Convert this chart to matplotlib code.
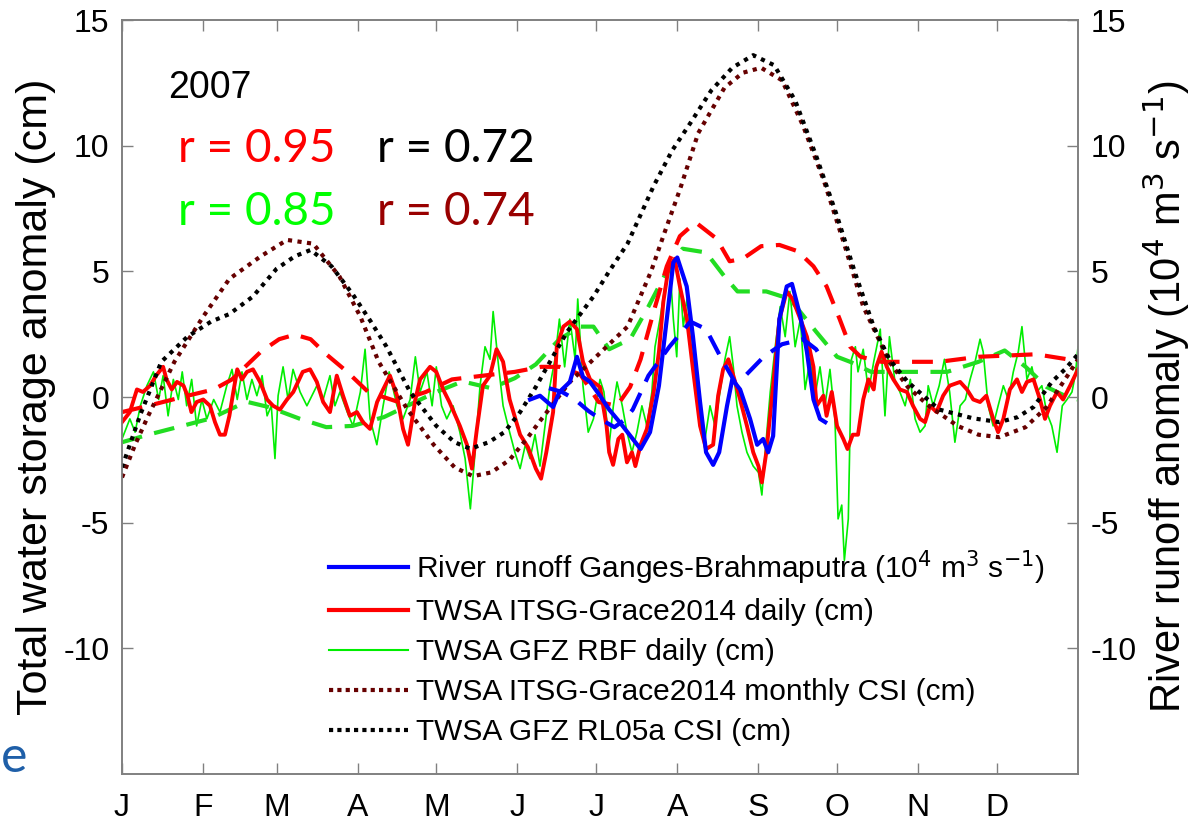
import matplotlib
matplotlib.use("Agg")
import matplotlib.pyplot as plt
import numpy as np
from matplotlib.lines import Line2D

W, H = 1195, 822

# ---------------- data (day of year 2007, values) ----------------
month_starts = [0, 31, 59, 90, 120, 151, 181, 212, 243, 273, 304, 334]
month_labels = ["J", "F", "M", "A", "M", "J", "J", "A", "S", "O", "N", "D"]
ytick_vals = [-10, -5, 0, 5, 10, 15]
ytick_labels = ["-10", "-5", "0", "5", "10", "15"]

# TWSA GFZ RL05a CSI (black dotted)
gfz_csi_days = [0, 7, 15, 25, 34, 41, 50, 59, 66, 72, 80, 88, 95, 101, 110, 120, 127, 133,
                140, 146, 152, 158, 165, 170, 180, 186, 193, 203, 210, 217, 225, 233, 241,
                249, 257, 265, 273, 280, 287, 293, 300, 312, 325, 335, 342, 348, 355, 360, 365]
gfz_csi_vals = [-2.8, -0.7, 1.4, 2.4, 3.0, 3.3, 4.0, 5.1, 5.6, 5.85, 5.2, 4.1, 3.0, 2.0, 0.2,
                -1.15, -1.8, -2.06, -1.8, -1.4, -0.6, 0.4, 1.7, 2.6, 4.0, 5.0, 6.1, 8.4, 9.8,
                10.9, 12.2, 13.1, 13.6, 13.2, 11.8, 9.6, 7.2, 4.9, 2.8, 1.5, 0.6, -0.5, -0.85,
                -1.0, -0.8, -0.4, 0.6, 1.1, 1.7]

# TWSA ITSG-Grace2014 monthly CSI (dark red dotted)
itsg_csi_days = [0, 5, 10, 20, 31, 41, 53, 63, 73, 83, 91, 98, 109, 119, 127, 134, 141, 148,
                 155, 160, 171, 183, 193, 202, 207, 213, 220, 230, 237, 244, 252, 260, 268,
                 276, 283, 293, 300, 308, 319, 327, 335, 345, 353, 361, 365]
itsg_csi_vals = [-3.2, -1.9, -0.75, 1.4, 3.2, 4.7, 5.6, 6.25, 6.1, 4.8, 3.2, 1.4, -0.5, -1.9,
                 -2.8, -3.15, -3.0, -2.5, -1.6, -0.9, 0.6, 1.8, 2.8, 5.0, 6.5, 8.25, 10.5,
                 12.3, 12.9, 13.1, 12.6, 10.8, 8.6, 6.0, 3.6, 1.4, 0.4, -0.35, -1.15, -1.5,
                 -1.6, -1.2, -0.4, 0.85, 1.5]

# smoothed ITSG daily (red dashed)
itsg_sm_days = [0, 10, 25, 35, 42, 53, 60, 66, 72, 78, 86, 94, 105, 116, 126, 138, 150, 160,
                167, 175, 182, 189, 194, 198, 203, 208, 213, 219, 227, 232, 237, 244, 251,
                258, 264, 269, 274, 278, 282, 290, 300, 312, 327, 338, 349, 361, 365]
itsg_sm_vals = [-0.6, -0.35, 0.05, 0.3, 0.7, 1.8, 2.3, 2.48, 2.3, 1.7, 1.0, 0.2, -0.18, 0.2,
                0.7, 0.85, 1.0, 1.2, 1.2, 0.9, -0.2, -0.35, 0.4, 1.5, 3.4, 5.2, 6.4, 6.95,
                6.3, 5.4, 5.5, 6.0, 6.05, 5.8, 5.2, 4.4, 3.1, 2.0, 1.6, 1.4, 1.4, 1.4, 1.6,
                1.65, 1.7, 1.5, 1.4]

# smoothed GFZ daily (green dashed)
gfz_sm_days = [0, 10, 23, 34, 44, 48, 56, 68, 78, 88, 100, 110, 120, 130, 141, 150, 158, 167,
               175, 180, 186, 194, 201, 207, 214, 223, 230, 235, 246, 255, 265, 273, 278,
               286, 299, 305, 315, 327, 337, 345, 353, 361, 365]
gfz_sm_vals = [-1.8, -1.5, -1.15, -0.85, -0.36, -0.2, -0.4, -0.87, -1.2, -1.15, -0.8, -0.3,
               0.2, 0.62, 0.35, 0.75, 1.3, 2.3, 2.8, 2.8, 1.9, 2.3, 3.6, 4.8, 5.9, 5.75, 4.8,
               4.2, 4.2, 3.9, 2.6, 1.6, 1.4, 1.0, 1.0, 1.0, 1.0, 1.4, 1.85, 1.2, 0.4, 0.0, -0.1]

# smoothed river runoff (blue dashed), 10^4 m^3/s
runoff_sm_days = [163, 168, 173, 178, 183, 188, 192, 195, 201, 209, 217, 223, 229, 234, 238,
                  245, 252, 260, 265, 268]
runoff_sm_vals = [0.35, 0.2, -0.1, -0.55, -0.9, -1.2, -0.9, -0.5, 0.85, 2.0, 3.0, 2.7, 1.5,
                  0.6, 0.85, 1.6, 2.1, 2.3, 1.9, 1.4]

# River runoff Ganges-Brahmaputra (blue solid)
runoff_days = [155.8, 159.6, 164.6, 167, 171, 173.7, 176, 178.7, 182.5, 186, 190, 198, 201.6,
               205, 208, 210.5, 212, 215.6, 218, 220.7, 223, 225.7, 228, 231, 233, 236,
               239.8, 242.5, 244.8, 246.7, 248.6, 251, 253.8, 255.8, 259, 261.5, 264,
               266.5, 268.5]
runoff_vals = [-0.1, 0.05, -0.4, 0.2, 0.6, 1.6, 0.8, 0.6, 0.05, -0.5, -1.0, -2.07, -1.4, 0.45,
               3.1, 5.35, 5.55, 4.4, 2.4, -0.2, -2.2, -2.7, -2.2, -0.35, 0.7, 0.3, -0.87,
               -1.9, -1.67, -2.2, -1.55, 3.1, 4.4, 4.5, 3.2, 1.8, -0.1, -0.87, -1.0]

# TWSA ITSG-Grace2014 daily (red solid)
itsg_days = [0, 3, 5.7, 8, 10.7, 13, 15.7, 17, 19, 21, 23.5, 25, 26.5, 28.5, 31, 33.6, 35.5,
             37.4, 39.3, 41, 42.5, 44, 45.8, 47.7, 50, 52.7, 55.4, 57.7, 60.3, 63, 65.4, 69,
             71.8, 74.4, 76.8, 79.4, 82, 84.4, 87, 89.7, 92, 94.7, 97.4, 99.7, 102.3, 105,
             107.3, 109.2, 112, 113.8, 117.6, 120, 122.6, 125, 129, 131.7, 133.6, 135.5,
             137.8, 140.5, 143, 145.5, 148, 152, 155, 158, 160, 162, 164.6, 166, 168.5, 171,
             173.7, 176, 178.7, 182.5, 185, 186, 187.5, 189.5, 191, 192.8, 194.7, 196, 198,
             200.4, 203, 205, 206.7, 208.6, 211, 213, 215.7, 218, 220.7, 223, 225.7, 227.6,
             229.5, 231.5, 233.4, 236, 238.6, 241, 243, 244.3, 246, 248.6, 251, 253.8, 256,
             259, 261.5, 264, 265.2, 267.8, 269, 271, 273, 275.4, 277, 279, 281, 283, 285,
             287, 288, 290, 292, 294.5, 297, 299.7, 302, 304.7, 306.6, 308.5, 311, 313.5,
             316, 320, 322.6, 325, 327.6, 330, 332.6, 334.5, 336.5, 339, 341.7, 343.6,
             345.5, 348, 350.5, 352.4, 354.3, 357, 359.3, 362, 365]
itsg_vals = [-1.0, -0.6, 0.3, 0.2, 0.45, 0.85, 1.2, 0.7, 0.3, 0.6, 0.45, 0.05, -0.6, -0.2,
             -0.1, -0.35, -1.0, -1.5, -1.5, -0.75, 0.2, 1.1, 0.7, 1.0, 1.1, 0.6, -0.1, -0.35,
             -0.5, -0.1, 0.2, 1.0, 1.1, 0.6, -0.2, -0.6, 0.85, 0.05, -0.75, -0.6, -1.0,
             -1.27, -0.2, 0.3, 0.85, 0.05, -1.27, -1.9, -0.1, 0.7, 1.2, 1.0, 0.3, -0.2,
             -1.15, -1.9, -2.85, -1.27, 0.45, 0.85, 1.9, 1.4, -0.1, -1.5, -2.0, -2.85,
             -3.25, -2.2, -0.6, 2.0, 2.8, 3.0, 2.7, 1.4, 0.7, 0.4, -1.15, -2.2, -2.7, -1.67,
             -1.5, -2.6, -2.2, -2.75, -1.9, -1.27, 0.2, 1.8, 3.8, 5.1, 5.5, 4.4, 3.1, 1.1,
             -1.15, -2.07, -1.9, 0.05, 1.1, 1.5, 0.85, -0.1, -1.15, -2.2, -2.75, -3.4, -2.2,
             0.45, 3.1, 4.2, 3.9, 3.1, 2.4, 1.2, -0.35, 0.05, -0.75, 0.2, -1.15, -1.67,
             -2.07, -1.5, -1.5, -0.1, 0.7, 0.3, 1.2, 1.8, 1.2, 0.7, 0.3, 0.2, -0.35, -0.87,
             -1.0, -0.35, -0.6, 0.05, 0.45, 0.6, 0.3, -0.1, -0.2, 0.05, -0.87, -1.4, -0.87,
             0.3, 0.7, 0.2, 0.6, 0.7, -0.1, -0.87, -0.35, 0.2, -0.1, 0.45, 1.1]

# TWSA GFZ RBF daily (green thin)
gfz_days = [0, 3, 5, 7, 9.5, 12, 14, 15.7, 17.6, 19.6, 21.5, 23, 24.7, 26.6, 28.5, 30.5,
            32.4, 35, 37.4, 40, 42, 44, 45.8, 47.7, 49.6, 51.5, 53.5, 55.4, 57, 58.4, 59.6,
            61.5, 63.4, 65.3, 68, 70.6, 72.5, 74.4, 76.8, 79.4, 81.3, 83.2, 86, 88.2, 91,
            92.8, 94.7, 97.3, 99.7, 102, 105, 107.3, 110, 112, 113.8, 116.4, 118.4, 120, 122,
            124, 126.4, 129, 131, 133, 134.8, 136.7, 138.6, 140.5, 141.7, 143.6, 145.5, 148,
            150, 152, 154, 155.8, 157.7, 159.6, 161.5, 163.4, 165.3, 167, 169, 171, 173, 174,
            176, 178, 180, 182.5, 184, 186, 187.6, 189, 191, 192.8, 194.7, 196.6, 198.5,
            200.4, 202.3, 203.5, 205.4, 207.3, 209.2, 210.5, 211.8, 213, 214.3, 215.7, 217.6,
            218.8, 220.7, 222.6, 224.5, 226.4, 228.3, 230.2, 232, 233.4, 234.8, 236.7, 238.6,
            241, 243, 244.3, 246.2, 247.5, 249.4, 251.3, 253.2, 255, 257, 259, 260.8, 262.7,
            264.6, 266.5, 268.4, 270.3, 272.2, 273.4, 274.8, 275.8, 277.3, 278.5, 280, 281,
            283, 285, 287, 289.5, 291.3, 293, 295, 297, 299, 301, 302.8, 304.7, 306.6, 307.8,
            309.7, 312, 314, 316, 318, 320, 322, 323.8, 325.7, 327.6, 328.8, 330.7, 332.6,
            334.5, 336.5, 338.4, 340.3, 342.2, 343.6, 345.5, 347.4, 349.3, 351.2, 353, 355,
            357, 359, 360.8, 362.7, 364, 365]
gfz_vals = [-1.67, -0.87, -1.4, -0.35, 0.45, 1.0, -0.1, 0.85, -0.75, 0.7, -0.1, 1.0, -0.35,
            0.7, -1.15, -0.1, -0.87, -0.1, -0.6, 0.45, 1.1, -0.1, 1.0, -0.1, 0.7, 0.05, 0.85,
            -0.75, -0.35, -2.45, 0.05, 1.2, -0.1, 1.1, 0.2, -0.35, 0.05, 0.45, -0.1, 0.85,
            -0.35, 0.2, -0.6, -1.15, 0.2, 1.9, -0.87, -1.9, -0.35, 1.0, -0.35, -0.87, -0.1,
            1.6, 0.2, 1.0, -0.35, 1.2, -0.35, -0.87, -0.35, -1.4, -2.45, -4.45, -2.2, 0.45,
            2.0, 1.5, 3.4, 1.4, -0.35, -1.4, -2.2, -2.85, -1.9, -2.45, -1.5, -2.75, -1.15,
            0.45, 1.5, 3.1, 1.2, 3.1, 1.5, 3.9, 0.45, -1.4, -0.87, 0.7, 0.2, -1.9, -0.35,
            0.6, -0.35, -1.4, -2.2, -1.4, -0.35, -1.15, 0.2, 2.0, 3.1, 4.4, 5.2, 3.1, 1.6,
            4.7, 2.8, 3.9, 2.3, 1.2, -0.35, -1.67, -0.35, -1.15, 0.2, 1.5, 2.4, 1.2, -0.35,
            -1.4, -2.2, -2.75, -3.0, -3.9, -1.4, 0.2, 2.0, 3.6, 2.4, 4.2, 2.0, 3.1, 0.3, 1.5,
            0.05, 1.2, -0.35, 1.1, -0.87, -4.85, -4.3, -6.5, -4.85, 1.5, 2.0, 1.0, 1.9, 0.2,
            1.4, 2.7, -0.75, 2.4, 0.7, 0.2, -0.35, 0.7, -0.87, -1.4, -1.15, 0.45, -0.35,
            0.45, 1.5, 0.2, -1.8, -0.35, -0.1, 0.7, 1.4, 2.3, 1.8, -0.35, -1.15, -0.35, 0.45,
            -0.1, 1.0, 1.8, 2.8, 0.7, 1.2, 0.2, 0.45, -0.6, -1.15, -2.2, -0.35, -0.1, 0.2,
            0.9, 2.0]

# ---------------- figure ----------------
fig = plt.figure(figsize=(W / 100, H / 100), dpi=100)
ax = fig.add_axes([122 / W, (H - 774) / H, (1078 - 122) / W, (774 - 20) / H])
ax2 = ax.twinx()

c_green = "#00ee00"
c_green_d = "#22dd22"
c_red = "#ff0000"
c_darkred = "#660000"
c_blue = "#0000ff"

ax.plot(gfz_days, gfz_vals, color=c_green, lw=1.2, zorder=2)
ax.plot(gfz_sm_days, gfz_sm_vals, color=c_green_d, lw=3.0, ls=(0, (5, 3)), zorder=3)
ax.plot(itsg_sm_days, itsg_sm_vals, color=c_red, lw=3.0, ls=(0, (5, 3)), zorder=3)
ax.plot(itsg_days, itsg_vals, color=c_red, lw=2.8, zorder=4)
ax.plot(itsg_csi_days, itsg_csi_vals, color=c_darkred, lw=3.0, ls=(0, (1, 1.3)), zorder=5)
ax.plot(gfz_csi_days, gfz_csi_vals, color="black", lw=3.0, ls=(0, (1, 1.3)), zorder=6)

ax2.plot(runoff_sm_days, runoff_sm_vals, color=c_blue, lw=3.0, ls=(0, (5, 3)), zorder=5)
ax2.plot(runoff_days, runoff_vals, color=c_blue, lw=3.0, zorder=6)

for a in (ax, ax2):
    a.set_xlim(0, 365)
    a.set_ylim(-15, 15)
    for s in a.spines.values():
        s.set_color("#808080")
        s.set_linewidth(1.2)

ax.set_xticks(month_starts)
ax.set_xticklabels(month_labels)
ax.set_yticks(ytick_vals)
ax.set_yticklabels(ytick_labels)
ax2.set_yticks(ytick_vals)
ax2.set_yticklabels(ytick_labels)

tfam = ["Liberation Sans", "DejaVu Sans"]
for lab in ax.get_xticklabels() + ax.get_yticklabels() + ax2.get_yticklabels():
    lab.set_fontfamily(tfam)
    lab.set_fontsize(23)

ax.tick_params(axis="x", direction="in", length=8, width=1.0, color="#808080",
               top=True, bottom=True, pad=14)
ax.tick_params(axis="y", direction="in", length=8, width=1.0, color="#808080",
               left=True, right=False, pad=9)
ax2.tick_params(axis="y", direction="in", length=8, width=1.0, color="#808080", pad=9)

ax.set_ylabel("Total water storage anomaly (cm)", family=tfam, fontsize=31, labelpad=5)
ax2.set_ylabel("River runoff anomaly (10$^4$ m$^3$ s$^{\\mathrm{-}1}$)",
               family=tfam, fontsize=30, labelpad=3)

# annotations
def ftext(x, y, s, **kw):
    fig.text(x / W, 1 - y / H, s, va="baseline", ha="left", **kw)

ftext(168, 98, "2007", family=tfam, fontsize=27, color="black")
rfont = ["Lato", "DejaVu Sans"]
ftext(178, 162, "r = 0.95", family=rfont, fontsize=33, color="#ff0000")
ftext(377, 162, "r = 0.72", family=rfont, fontsize=33, color="black")
ftext(178, 225, "r = 0.85", family=rfont, fontsize=33, color="#00ff00")
ftext(377, 225, "r = 0.74", family=rfont, fontsize=33, color="#990000")
ftext(1, 772, "e", family=rfont, fontsize=36, color="#1f5fa8")

# legend
handles = [
    Line2D([], [], color=c_blue, lw=3.0),
    Line2D([], [], color=c_red, lw=3.0),
    Line2D([], [], color=c_green, lw=1.5),
    Line2D([], [], color=c_darkred, lw=3.0, ls=(0, (1, 1.0))),
    Line2D([], [], color="black", lw=3.0, ls=(0, (1, 1.0))),
]
labels = [
    "River runoff Ganges-Brahmaputra (10$^4$ m$^3$ s$^{\\mathrm{-}1}$)",
    "TWSA ITSG-Grace2014 daily (cm)",
    "TWSA GFZ RBF daily (cm)",
    "TWSA ITSG-Grace2014 monthly CSI (cm)",
    "TWSA GFZ RL05a CSI (cm)",
]
leg = fig.legend(handles, labels, loc="upper left",
                 bbox_to_anchor=(329 / W, 1 - 548 / H),
                 frameon=False, handlelength=2.65, handletextpad=0.25,
                 labelspacing=0.40, borderpad=0, borderaxespad=0,
                 prop=dict(family=["Liberation Sans Narrow", "Liberation Sans", "DejaVu Sans"],
                           size=21.5))
leg.set_zorder(10)

fig.savefig("out.png", dpi=100)
